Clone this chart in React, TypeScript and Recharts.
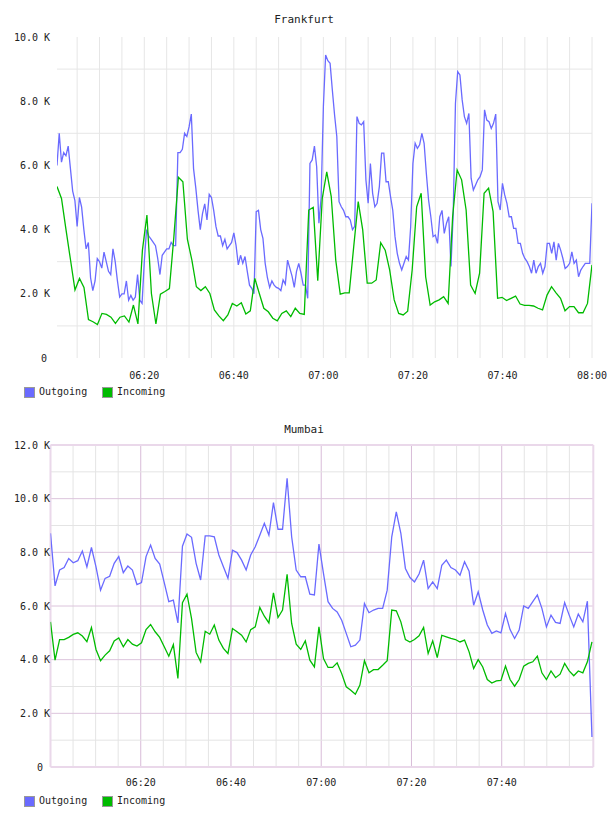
import { LineChart, Line, XAxis, YAxis, ReferenceLine } from 'recharts';

// Frankfurt outgoing, one value every 30 s from 06:00:30 (K)
const fraOutgoing = [
  6.0, 7.0, 6.1, 6.4, 6.3, 6.6, 5.9, 5.2, 4.9, 4.1,
  5.0, 4.7, 4.0, 3.4, 3.6, 2.5, 2.1, 2.4, 3.1, 3.0,
  2.8, 3.3, 3.0, 2.7, 2.6, 3.4, 3.0, 2.4, 1.9, 2.0,
  2.0, 2.4, 1.8, 1.95, 1.8, 1.9, 2.6, 1.8, 1.7, 3.0,
  4.0, 3.8, 3.7, 3.6, 3.5, 3.1, 2.6, 3.2, 3.3, 3.4,
  3.4, 3.6, 3.5, 3.5, 6.4, 6.4, 6.5, 7.0, 6.9, 7.2,
  7.6, 5.9, 5.3, 4.6, 4.0, 4.5, 4.8, 4.3, 5.1, 5.0,
  4.6, 4.1, 3.8, 3.8, 3.5, 3.7, 3.4, 3.5, 3.6, 3.9,
  3.5, 2.9, 3.2, 2.95, 3.16, 2.7, 2.27, 2.17, 2.0, 4.56,
  4.6, 4.0, 3.73, 2.95, 2.5, 2.2, 2.4, 2.27, 2.2, 2.17,
  2.1, 2.43, 2.3, 3.05, 2.8, 2.55, 2.2, 2.7, 2.95, 2.64,
  2.27, 2.27, 1.86, 6.06, 6.17, 6.6, 5.96, 4.2, 5.0, 7.83,
  9.44, 9.26, 9.18, 8.35, 7.57, 6.9, 4.87, 4.71, 4.6, 4.4,
  4.4, 4.3, 4.0, 4.1, 7.52, 7.31, 7.26, 7.36, 5.55, 4.82,
  6.06, 5.13, 4.71, 4.82, 5.34, 6.38, 6.38, 5.49, 5.49, 5.03,
  4.6, 3.78, 3.26, 2.95, 2.74, 2.95, 3.16, 3.05, 4.09, 6.06,
  6.69, 6.53, 6.64, 7.0, 6.69, 5.75, 4.92, 4.4, 3.78, 3.83,
  3.57, 4.4, 4.6, 3.88, 4.2, 4.4, 2.85, 4.5, 7.93, 8.92,
  8.82, 8.04, 7.52, 7.31, 7.62, 5.6, 5.23, 5.39, 5.55, 5.65,
  5.86, 7.73, 7.41, 7.36, 7.15, 7.31, 7.6, 4.87, 4.61, 5.44,
  5.08, 4.82, 4.4, 4.4, 4.04, 4.04, 3.57, 3.57, 3.26, 3.1,
  3.0, 2.85, 2.64, 3.05, 2.64, 2.85, 2.95, 2.64, 2.85, 3.57,
  3.57, 3.26, 3.62, 3.05, 3.57, 3.36, 3.1, 2.79, 2.85, 2.95,
  3.31, 2.95, 3.05, 2.53, 2.74, 2.85, 2.95, 2.95, 2.95, 4.82,
];

// Frankfurt incoming, roughly one value per minute (K)
const fraIncoming = [
  5.34, 4.97, 4.0, 3.06, 2.12, 2.48, 2.2, 1.2, 1.13, 1.04,
  1.39, 1.36, 1.27, 1.08, 1.27, 1.31, 1.12, 1.65, 1.06, 3.36,
  4.45, 2.01, 1.06, 1.99, 2.07, 2.16, 3.78, 5.63, 5.49, 3.7,
  3.05, 2.22, 2.1, 2.22, 2.01, 1.5, 1.31, 1.16, 1.34, 1.7,
  1.62, 1.72, 1.37, 1.47, 2.48, 2.01, 1.55, 1.44, 1.24, 1.16,
  1.39, 1.47, 1.29, 1.55, 1.39, 1.36, 4.61, 4.69, 2.41, 4.97,
  5.8, 5.03, 3.05, 1.99, 2.03, 2.03, 3.47, 4.87, 3.99, 2.33,
  2.33, 2.43, 3.59, 3.36, 2.74, 1.81, 1.39, 1.34, 1.46, 2.74,
  4.71, 5.13, 2.53, 1.65, 1.75, 1.81, 1.91, 1.7, 4.4, 5.86,
  5.55, 4.61, 2.27, 2.01, 2.64, 5.13, 5.29, 4.56, 1.86, 1.89,
  1.79, 1.86, 1.93, 1.68, 1.64, 1.64, 1.62, 1.55, 1.5, 1.96,
  2.22, 2.03, 1.86, 1.47, 1.6, 1.6, 1.41, 1.41, 1.7, 2.9,
];

// Mumbai, one value per minute from 06:00 (K)
const mumOutgoing = [
  8.71, 6.75, 7.34, 7.43, 7.77, 7.61, 7.69, 8.05, 7.46, 8.18,
  7.46, 6.59, 7.03, 7.11, 7.59, 7.84, 7.24, 7.49, 7.34, 6.8,
  6.87, 7.84, 8.27, 7.77, 7.56, 6.87, 6.16, 6.22, 5.37, 8.23,
  8.68, 8.56, 7.59, 6.97, 8.61, 8.61, 8.58, 7.9, 7.46, 7.03,
  8.08, 7.99, 7.71, 7.34, 7.9, 8.21, 8.64, 9.08, 8.64, 9.85,
  8.86, 8.86, 10.76, 8.58, 7.34, 7.09, 7.09, 6.44, 6.41, 8.31,
  7.21, 6.16, 5.91, 5.78, 5.47, 4.98, 4.48, 4.54, 4.73, 6.09,
  5.75, 5.85, 5.91, 5.91, 6.59, 8.58, 9.51, 8.71, 7.4, 7.06,
  6.9, 7.19, 7.71, 6.65, 6.9, 6.65, 7.52, 7.71, 7.43, 7.34,
  7.15, 7.65, 7.3, 6.03, 6.53, 5.85, 5.29, 4.98, 5.07, 5.0,
  5.72, 5.12, 4.79, 5.1, 6.0, 5.91, 6.16, 6.41, 5.91, 5.22,
  5.66, 5.39, 5.35, 6.13, 5.66, 5.22, 5.7, 5.41, 6.18, 1.12,
];

const mumIncoming = [
  5.41, 3.98, 4.75, 4.75, 4.83, 4.94, 5.0, 4.88, 4.67, 5.2,
  4.38, 3.96, 4.17, 4.33, 4.7, 4.81, 4.48, 4.75, 4.58, 4.51,
  4.63, 5.12, 5.31, 5.04, 4.83, 4.48, 4.13, 4.56, 3.3, 6.12,
  6.44, 5.53, 4.27, 3.92, 5.06, 4.95, 5.29, 4.73, 4.42, 4.23,
  5.16, 5.04, 4.91, 4.66, 5.12, 5.22, 5.95, 5.62, 5.37, 6.49,
  5.57, 5.85, 7.18, 5.35, 4.58, 4.38, 4.7, 3.98, 3.73, 5.22,
  4.04, 3.71, 3.71, 3.88, 3.48, 2.99, 2.86, 2.71, 3.05, 3.96,
  3.51, 3.63, 3.63, 3.79, 3.96, 5.85, 5.82, 5.41, 4.75, 4.66,
  4.75, 4.89, 5.2, 4.23, 4.7, 4.08, 4.91, 4.85, 4.79, 4.75,
  4.66, 4.73, 4.29, 3.67, 4.0, 3.73, 3.26, 3.13, 3.21, 3.23,
  3.76, 3.26, 3.01, 3.26, 3.76, 3.86, 3.92, 4.13, 3.51, 3.26,
  3.58, 3.33, 3.46, 3.86, 3.58, 3.4, 3.58, 3.51, 3.92, 4.66,
];

const fraTimeTicks = [20, 40, 60, 80, 100, 120];
const mumTimeTicks = [20, 40, 60, 80, 100];
const fraValueTicks = [0, 2, 4, 6, 8, 10];
const mumValueTicks = [0, 2, 4, 6, 8, 10, 12];
const fraGridValues = [1, 3, 5, 7, 9];
const mumGridValues = [1, 2, 3, 4, 5, 6, 7, 8, 9, 10, 11];
const fiveMinutes = Array.from({ length: 24 }, (_, i) => (i + 1) * 5);

const FONT = '"DejaVu Sans Mono", monospace';
const BLUE = '#6a6aff';
const GREEN = '#00bb00';

const fraOut = fraOutgoing.map((v, i) => ({ t: 0.5 + i * 0.5, v }));
const fraIn = fraIncoming.map((v, i) => ({ t: 0.5 + (i * 119.5) / 119, v }));
const mumOut = mumOutgoing.map((v, i) => ({ t: (i * 120) / 119, v }));
const mumIn = mumIncoming.map((v, i) => ({ t: (i * 120) / 119, v }));

const fmtTime = (m: number) => {
  const h = 6 + Math.floor(m / 60);
  const mm = Math.round(m % 60);
  return `0${h}:${String(mm).padStart(2, '0')}`;
};
const fmtK = (v: number) => (v === 0 ? '0' : `${v.toFixed(1)} K`);

function YTick({ y, payload, right, zeroRight }: any) {
  return (
    <text x={payload.value === 0 ? zeroRight : right} y={y} dy={3.5} textAnchor="end" fontSize={10} fontFamily={FONT} fill="#222">
      {fmtK(payload.value)}
    </text>
  );
}

function XTick({ x, payload, baseY }: any) {
  return (
    <text x={x} y={baseY} textAnchor="middle" fontSize={10} fontFamily={FONT} fill="#222">
      {fmtTime(payload.value)}
    </text>
  );
}

function Legend({ top }: { top: number }) {
  const sw = (left: number, color: string) => (
    <div style={{ position: 'absolute', left, top: top - 5, width: 11, height: 11, boxSizing: 'border-box', background: color, border: '1px solid #999' }} />
  );
  const label = (left: number, text: string) => (
    <div style={{ position: 'absolute', left, top: top - 7, font: `10px ${FONT}`, lineHeight: '14px', color: '#222' }}>{text}</div>
  );
  return (
    <>
      {sw(24, BLUE)}
      {label(39, 'Outgoing')}
      {sw(102, GREEN)}
      {label(117, 'Incoming')}
    </>
  );
}

function Title({ top, text }: { top: number; text: string }) {
  return (
    <div style={{ position: 'absolute', left: 0, width: 608, top: top - 7, textAlign: 'center', font: `11px ${FONT}`, lineHeight: '14px', color: '#222' }}>
      {text}
    </div>
  );
}

export default function App() {
  return (
    <div style={{ position: 'relative', width: 608, height: 816, background: '#fff', overflow: 'hidden' }}>
      <style>{'body{margin:0}'}</style>
      <Title top={20} text="Frankfurt" />
      <div style={{ position: 'absolute', left: 0, top: 0 }}>
        <LineChart width={608} height={380} margin={{ top: 37, right: 16, bottom: 0, left: 0 }}>
          <XAxis
            dataKey="t"
            type="number"
            domain={[0.5, 120]}
            ticks={fraTimeTicks}
            allowDataOverflow
            axisLine={false}
            tickLine={false}
            height={22}
            tick={(p: any) => <XTick {...p} baseY={378.5} />}
          />
          <YAxis
            type="number"
            domain={[0, 10]}
            ticks={fraValueTicks}
            axisLine={false}
            tickLine={false}
            width={57}
            tick={(p: any) => <YTick {...p} right={50} zeroRight={47} />}
          />
          {fiveMinutes.map((m) => (
            <ReferenceLine key={`fv${m}`} x={m} stroke="#e6e6e6" strokeWidth={1} />
          ))}
          {fraGridValues.map((v) => (
            <ReferenceLine key={`fh${v}`} y={v} stroke="#e6e6e6" strokeWidth={1} />
          ))}
          <Line data={fraOut} dataKey="v" stroke={BLUE} strokeWidth={1.3} dot={false} isAnimationActive={false} />
          <Line data={fraIn} dataKey="v" stroke={GREEN} strokeWidth={1.3} dot={false} isAnimationActive={false} />
        </LineChart>
      </div>
      <Legend top={392} />

      <Title top={430} text="Mumbai" />
      <div style={{ position: 'absolute', left: 0, top: 400 }}>
        <LineChart width={608} height={389} margin={{ top: 45, right: 14.7, bottom: 0, left: 0 }}>
          <XAxis
            dataKey="t"
            type="number"
            domain={[0, 120.3]}
            ticks={mumTimeTicks}
            allowDataOverflow
            axisLine={false}
            tickLine={false}
            height={22}
            tick={(p: any) => <XTick {...p} baseY={385.5} />}
          />
          <YAxis
            type="number"
            domain={[0, 12]}
            ticks={mumValueTicks}
            axisLine={false}
            tickLine={false}
            width={50.5}
            tick={(p: any) => <YTick {...p} right={50} zeroRight={43} />}
          />
          {fiveMinutes.filter((m) => m < 120).map((m) => (
            <ReferenceLine key={`mv${m}`} x={m} stroke={m % 20 === 0 ? '#d8bcd8' : '#e4e4e4'} strokeWidth={1} />
          ))}
          {mumGridValues.map((v) => (
            <ReferenceLine key={`mh${v}`} y={v} stroke={v % 2 === 0 ? '#dcc4dc' : '#e4e4e4'} strokeWidth={1} />
          ))}
          <ReferenceLine y={0} stroke="#ead8ea" strokeWidth={2} />
          <ReferenceLine y={12} stroke="#ead8ea" strokeWidth={2} />
          <ReferenceLine x={0} stroke="#ead8ea" strokeWidth={2} />
          <ReferenceLine x={120.3} stroke="#ead8ea" strokeWidth={2} />
          <Line data={mumOut} dataKey="v" stroke={BLUE} strokeWidth={1.3} dot={false} isAnimationActive={false} />
          <Line data={mumIn} dataKey="v" stroke={GREEN} strokeWidth={1.3} dot={false} isAnimationActive={false} />
        </LineChart>
      </div>
      <Legend top={801} />
    </div>
  );
}
